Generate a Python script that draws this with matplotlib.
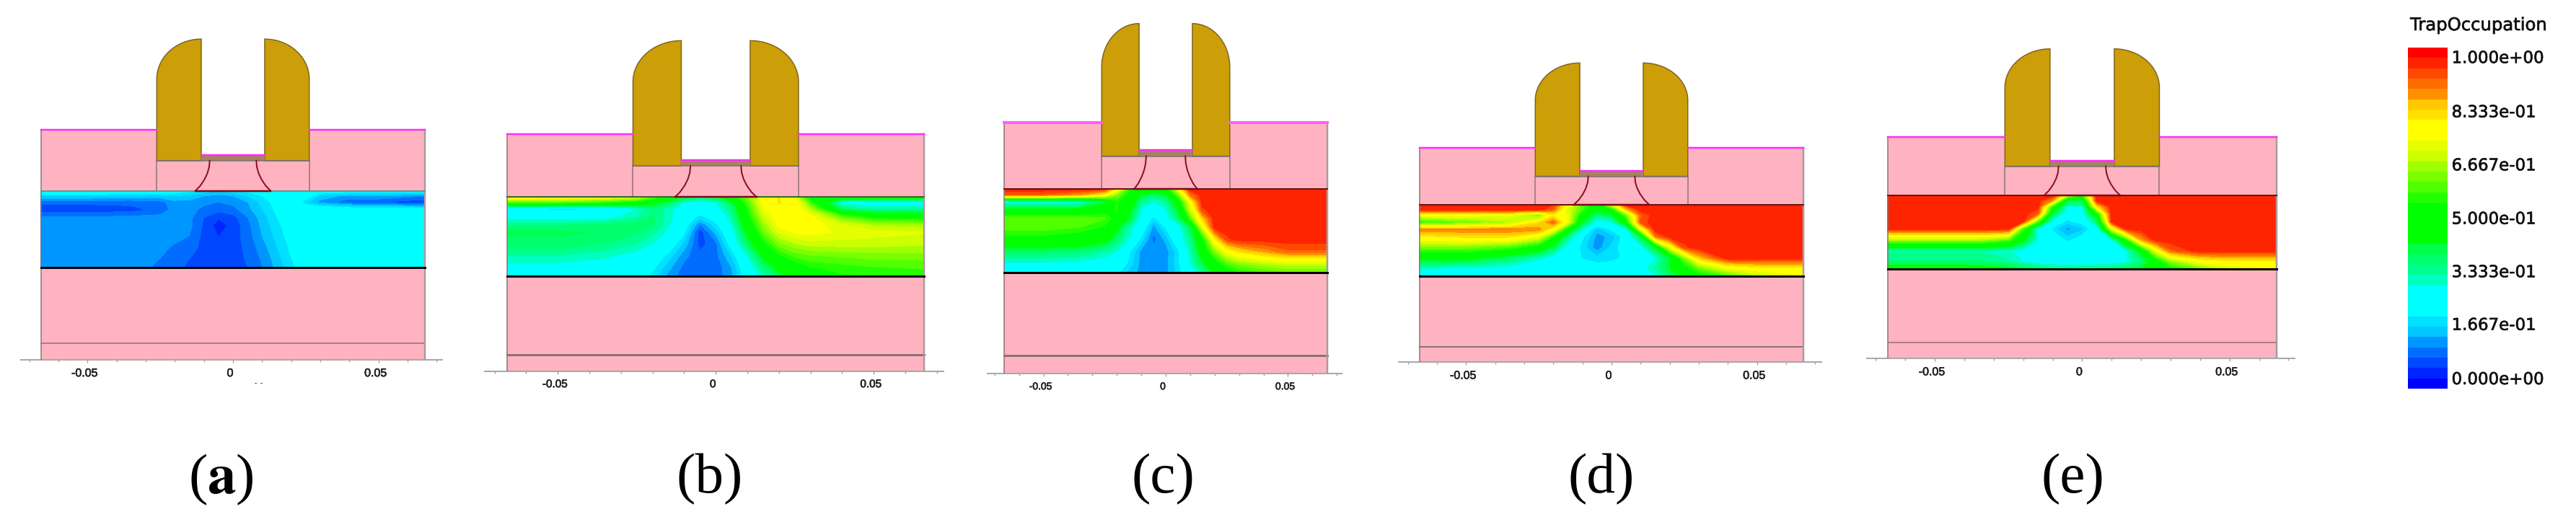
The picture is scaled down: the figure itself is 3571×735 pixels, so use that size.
import numpy as np
import matplotlib
matplotlib.use('Agg')
import matplotlib.pyplot as plt
import matplotlib.patheffects as pe
from matplotlib.colors import ListedColormap, BoundaryNorm
from matplotlib.patches import Rectangle, Polygon
from matplotlib.transforms import Bbox, ScaledTranslation

W, H = 3571, 735

# Trap occupation: rows run top to bottom of the layer
x_grid = [-0.066, -0.05, -0.035, -0.025, -0.02, -0.015, -0.01, -0.005, 0, 0.005, 0.01, 0.015, 0.02, 0.025, 0.03, 0.04, 0.05, 0.066]
row_frac = [0, .07, .15, .25, .35, .45, .6, .75, .9, 1]

field_a = [
    [.27, .27, .26, .25, .24, .22, .20, .18, .20, .22, .25, .27, .28, .28, .25, .24, .24, .24],
    [.18, .18, .17, .17, .18, .17, .15, .14, .15, .18, .21, .25, .27, .24, .17, .14, .15, .12],
    [.10, .10, .10, .11, .14, .14, .13, .12, .13, .15, .19, .23, .26, .19, .14, .10, .09, .07],
    [.07, .07, .08, .10, .135, .135, .11, .10, .11, .14, .18, .22, .26, .27, .27, .26, .25, .25],
    [.13, .13, .13, .135, .135, .13, .09, .065, .08, .12, .165, .21, .25, .27, .27, .27, .27, .27],
    [.135, .135, .135, .135, .135, .13, .085, .045, .07, .11, .16, .20, .24, .27, .27, .27, .27, .27],
    [.135, .135, .135, .135, .13, .12, .08, .06, .075, .105, .15, .19, .23, .27, .27, .27, .27, .27],
    [.135, .135, .135, .13, .115, .105, .08, .07, .075, .10, .135, .18, .22, .26, .27, .27, .27, .27],
    [.135, .135, .135, .12, .105, .09, .07, .07, .075, .095, .125, .165, .21, .245, .27, .27, .27, .27],
    [.135, .135, .135, .115, .10, .085, .07, .07, .075, .09, .12, .16, .20, .24, .27, .27, .27, .27],
]
field_b = [
    [.78, .76, .74, .70, .60, .48, .42, .38, .40, .50, .62, .75, .79, .72, .50, .47, .47, .47],
    [.58, .58, .55, .50, .45, .39, .30, .27, .30, .40, .58, .74, .79, .77, .58, .28, .27, .27],
    [.22, .20, .21, .30, .36, .32, .26, .25, .27, .36, .55, .72, .78, .78, .66, .38, .33, .33],
    [.27, .27, .28, .33, .37, .32, .25, .20, .24, .33, .52, .68, .76, .78, .74, .60, .52, .50],
    [.36, .36, .37, .38, .37, .31, .24, .12, .20, .30, .48, .64, .74, .76, .75, .70, .66, .65],
    [.40, .40, .39, .37, .34, .29, .22, .07, .16, .27, .44, .60, .70, .73, .74, .72, .71, .70],
    [.38, .38, .36, .33, .30, .25, .17, .08, .11, .24, .38, .52, .62, .66, .68, .68, .68, .67],
    [.33, .33, .31, .28, .25, .20, .13, .10, .11, .18, .30, .44, .53, .58, .60, .61, .62, .62],
    [.28, .28, .27, .26, .22, .16, .11, .10, .10, .15, .26, .36, .45, .50, .54, .56, .57, .58],
    [.26, .26, .26, .25, .20, .14, .105, .10, .105, .14, .25, .32, .40, .47, .52, .54, .55, .55],
]
field_c = [
    [.96, .96, .96, .94, .78, .55, .50, .48, .50, .72, .96, .96, .96, .96, .96, .96, .96, .96],
    [.90, .90, .85, .76, .62, .52, .42, .38, .42, .60, .88, .96, .96, .96, .96, .96, .96, .96],
    [.27, .27, .28, .40, .55, .50, .35, .30, .34, .48, .75, .96, .96, .96, .96, .96, .96, .96],
    [.45, .45, .46, .52, .55, .45, .30, .26, .30, .42, .68, .93, .96, .96, .96, .96, .96, .96],
    [.60, .60, .60, .58, .52, .42, .27, .20, .27, .37, .58, .82, .96, .96, .96, .96, .96, .96],
    [.60, .60, .58, .54, .45, .33, .26, .14, .22, .27, .40, .72, .96, .96, .96, .96, .96, .96],
    [.52, .52, .50, .46, .38, .30, .20, .11, .16, .26, .35, .52, .78, .93, .96, .96, .96, .96],
    [.38, .38, .37, .33, .30, .22, .14, .13, .135, .20, .32, .48, .62, .74, .80, .85, .90, .90],
    [.29, .29, .28, .27, .26, .20, .14, .135, .14, .20, .30, .40, .50, .58, .62, .66, .68, .68],
    [.26, .26, .26, .25, .22, .17, .14, .135, .14, .19, .26, .34, .44, .50, .54, .57, .60, .60],
]
field_d = [
    [.96, .96, .96, .96, .94, .75, .60, .50, .70, .96, .96, .96, .96, .96, .96, .96, .96, .96],
    [.96, .96, .96, .96, .90, .70, .58, .46, .52, .82, .96, .96, .96, .96, .96, .96, .96, .96],
    [.74, .74, .72, .60, .78, .72, .50, .36, .40, .60, .90, .96, .96, .96, .96, .96, .96, .96],
    [.55, .60, .66, .80, .90, .72, .42, .27, .30, .50, .92, .96, .96, .96, .96, .96, .96, .96],
    [.88, .88, .88, .87, .75, .50, .30, .16, .22, .27, .70, .96, .96, .96, .96, .96, .96, .96],
    [.78, .80, .80, .72, .55, .36, .22, .14, .16, .24, .40, .88, .96, .96, .96, .96, .96, .96],
    [.62, .62, .58, .50, .40, .26, .20, .13, .19, .24, .28, .42, .72, .93, .96, .96, .96, .96],
    [.45, .45, .38, .31, .27, .24, .21, .19, .20, .22, .25, .30, .42, .62, .82, .96, .96, .96],
    [.30, .29, .28, .26, .25, .25, .24, .24, .24, .25, .28, .33, .42, .50, .60, .72, .76, .76],
    [.28, .27, .26, .25, .25, .25, .24, .24, .24, .25, .26, .30, .38, .44, .50, .58, .66, .72],
]
field_e = [
    [.96, .96, .96, .96, .96, .96, .96, .70, .55, .96, .96, .96, .96, .96, .96, .96, .96, .96],
    [.96, .96, .96, .96, .96, .96, .85, .42, .40, .96, .96, .96, .96, .96, .96, .96, .96, .96],
    [.96, .96, .96, .96, .96, .96, .55, .30, .30, .80, .96, .96, .96, .96, .96, .96, .96, .96],
    [.96, .96, .96, .96, .96, .90, .40, .26, .27, .50, .96, .96, .96, .96, .96, .96, .96, .96],
    [.96, .96, .96, .96, .96, .60, .27, .20, .24, .38, .96, .96, .96, .96, .96, .96, .96, .96],
    [.96, .96, .96, .96, .58, .30, .20, .14, .17, .26, .72, .96, .96, .96, .96, .96, .96, .96],
    [.66, .66, .66, .60, .45, .30, .25, .20, .24, .26, .30, .55, .85, .96, .96, .96, .96, .96],
    [.33, .33, .33, .31, .28, .26, .25, .25, .25, .25, .26, .30, .45, .72, .90, .96, .96, .96],
    [.37, .37, .37, .34, .30, .27, .26, .25, .25, .26, .27, .30, .36, .48, .62, .74, .77, .77],
    [.50, .50, .48, .45, .42, .40, .38, .37, .38, .38, .38, .40, .44, .48, .52, .60, .68, .72],
]
fields = [field_a, field_b, field_c, field_d, field_e]
panel_labels = ['a', 'b', 'c', 'd', 'e']

# colour bands of the legend, lowest value first
band_colors = ['#0000ff', '#0024ff', '#0048ff', '#006dff', '#0096ff', '#00c8ff', '#00e0ff', '#00ffff',
               '#00ffff', '#00ffff', '#00ffc0', '#00ff91', '#00ff6d', '#00ff48', '#00ff00', '#00ff00',
               '#00ff00', '#00ff00', '#24ff00', '#50ff00', '#78ff00', '#a0ff00', '#ccff00', '#e6ff00',
               '#ffff00', '#ffff00', '#ffe000', '#ffc800', '#ff9100', '#ff6d00', '#ff4800', '#ff2400',
               '#ff0000']
bar_ticks = [.032, .191, .346, .502, .659, .815, .974]
bar_labels = ['0.000e+00', '1.667e-01', '3.333e-01', '5.000e-01', '6.667e-01', '8.333e-01', '1.000e+00']

x_ticks = [-0.05, 0, 0.05]
x_tick_labels = ['-0.05', '0', '0.05']

# where each panel sits on the sheet (pixels)
panel_x0 = [323, 992.2, 1616, 2234, 2886.4]
panel_xscale = [4034, 4380, 3390, 4035, 4087]
panel_base = [499, 515, 518, 502.3, 497.3]
panel_yscale = [4277, 4410, 4667, 3990, 4130]
label_x = [306, 984, 1612, 2220, 2873]
tick_size = [11.5, 11, 10, 11.5, 11.5]
top_line = ['#6f8f90', '#2f6a20', '#701010', '#701010', '#701010']
top_width = [2.5, 2.5, 4, 2.5, 2.5]
top_color = ['#ff2cff', '#ff2cff', '#ff5cff', '#ff2cff', '#ff2cff']
thin_width = [1.5, 3, 3, 2, 1.5]

# device layout, um
x_edge = 0.066
gate_out = 0.0262
gate_in = 0.0109
y_thin, y_low, y_high, y_gate, y_top, y_gate_top, y_knee = 0.0053, 0.03, 0.0548, 0.0646, 0.0745, 0.104, 0.091
ox_thick = 0.0018
spacer_x = [.0080, .0082, .0088, .0098, .0112, .0129]
spacer_y = [.0646, .0625, .0605, .0585, .0565, .0548]

PINK = '#ffb3c0'
GOLD = '#cc9e08'
EDGE = '#8a7278'
px = 0.72

cmap = ListedColormap(band_colors)
levels = np.linspace(0, 1, len(band_colors) + 1)
norm = BoundaryNorm(levels, cmap.N)

fig = plt.figure(figsize=(W / 100, H / 100), dpi=100)
fig.patch.set_facecolor('white')
heavy = [pe.withStroke(linewidth=0.5, foreground='#222222')]


def gate_outline(side):
    t = np.linspace(0, np.pi / 2, 40)
    xs = gate_in + (gate_out - gate_in) * np.cos(t)
    ys = y_knee + (y_gate_top - y_knee) * np.sin(t)
    pts = [(gate_in, y_gate), (gate_out, y_gate)] + list(zip(xs, ys)) + [(gate_in, y_gate_top)]
    return [(side * a, b) for a, b in pts]


for i, field in enumerate(fields):
    xlim = (-0.08, 0.08)
    ylim = (0, 0.115)
    left = panel_x0[i] + xlim[0] * panel_xscale[i]
    width = (xlim[1] - xlim[0]) * panel_xscale[i]
    height = ylim[1] * panel_yscale[i]
    ax = fig.add_axes([left / W, 1 - panel_base[i] / H, width / W, height / H])
    ax.set_xlim(xlim)
    ax.set_ylim(ylim)
    ax.patch.set_alpha(0)

    # pink body
    ax.add_patch(Rectangle((-x_edge, 0), 2 * x_edge, y_low, fc=PINK, ec='none', zorder=1))
    ax.add_patch(Rectangle((-x_edge, y_high), x_edge - gate_out, y_top - y_high, fc=PINK, ec='none', zorder=1))
    ax.add_patch(Rectangle((gate_out, y_high), x_edge - gate_out, y_top - y_high, fc=PINK, ec='none', zorder=1))
    ax.add_patch(Rectangle((-gate_out, y_high), 2 * gate_out, y_gate - y_high, fc=PINK, ec='none', zorder=1))

    # trap occupation in the layer
    yy = y_high - np.array(row_frac) * (y_high - y_low)
    ax.contourf(x_grid, yy, np.array(field), levels=levels, cmap=cmap, norm=norm, zorder=2)

    # gates and oxide
    for side in (-1, 1):
        ax.add_patch(Polygon(gate_outline(side), closed=True, fc=GOLD, ec='#7d6420', lw=1.5 * px, zorder=3))
        ax.plot([side * x_edge, side * gate_out], [y_top, y_top], color=top_color[i], lw=top_width[i] * px, zorder=4)
        ax.plot([side * gate_out] * 2, [y_high, y_gate], color=EDGE, lw=1.5 * px, zorder=3)
        ax.plot([side * v for v in spacer_x], spacer_y, color='#8a1020', lw=2 * px, zorder=4)
    ax.add_patch(Rectangle((-gate_in, y_gate), 2 * gate_in, ox_thick, fc='#a88260', ec='none', zorder=3))
    ax.plot([-gate_in, gate_in], [y_gate + ox_thick] * 2, color='#ff2cff', lw=2.5 * px, zorder=4)
    ax.plot([-gate_out, gate_out], [y_gate, y_gate], color='#80707a', lw=1.5 * px, zorder=3)

    # layer and outline lines
    ax.plot([-x_edge, x_edge], [y_high, y_high], color=top_line[i], lw=2 * px, zorder=4)
    ax.plot([-spacer_x[-1], spacer_x[-1]], [y_high, y_high], color='#7a0a18', lw=2.5 * px, zorder=5)
    ax.plot([-x_edge, x_edge], [y_low, y_low], color='black', lw=3 * px, zorder=5)
    ax.plot([-x_edge, x_edge], [y_thin, y_thin], color=EDGE, lw=thin_width[i] * px, zorder=3)
    ax.plot([-x_edge, -x_edge], [0, y_top], color=EDGE, lw=1.5 * px, zorder=3)
    ax.plot([x_edge, x_edge], [0, y_top], color='#a89aa0', lw=2.5 * px, zorder=3)

    for name in ['top', 'left', 'right']:
        ax.spines[name].set_visible(False)
    ax.spines['bottom'].set_color('#a8a8a8')
    ax.spines['bottom'].set_linewidth(2 * px)
    ax.spines['bottom'].set_bounds(-0.073, 0.072)
    ax.set_yticks([])
    ax.set_xticks(x_ticks)
    ax.set_xticklabels(x_tick_labels, fontname='Liberation Sans', fontsize=tick_size[i], color='#222222')
    ax.set_xticks(np.arange(-0.07, 0.071, 0.01), minor=True)
    ax.tick_params(axis='x', which='major', length=3, width=1, color='#a0a0a0', pad=5)
    ax.tick_params(axis='x', which='minor', length=1.8, width=1, color='#a0a0a0')
    shift = ScaledTranslation(-4 / 100, 0, fig.dpi_scale_trans)
    for lab in ax.get_xticklabels():
        lab.set_transform(lab.get_transform() + shift)
        lab.set_path_effects(heavy)

    # panel label below
    if panel_labels[i] == 'a':
        fig.text(label_x[i] / W, 1 - 665 / H, r'($\mathbf{a}$)', ha='center', va='center',
                 fontsize=57, family='Liberation Serif', math_fontfamily='stix')
    else:
        fig.text(label_x[i] / W, 1 - 665 / H, '(' + panel_labels[i] + ')', ha='center', va='center',
                 fontsize=57, family='Liberation Serif')

# cut-off axis title under the first panel
cut = fig.text(358 / W, 1 - 527 / H, 'x', ha='center', va='top', fontsize=16, color='#333333')
cut.set_clip_box(Bbox([[340, H - 532], [376, H - 524]]))
cut.set_clip_on(True)

# legend
cax = fig.add_axes([3338 / W, 1 - 539 / H, 55 / W, 473 / H])
cax.pcolormesh([0, 1], levels, (levels[:-1] + np.diff(levels) / 2).reshape(-1, 1), cmap=cmap, norm=norm)
cax.set_xticks([])
cax.yaxis.tick_right()
cax.set_yticks(bar_ticks)
cax.set_yticklabels(bar_labels, fontsize=16.5, color='#111111')
for lab in cax.get_yticklabels():
    lab.set_path_effects(heavy)
cax.tick_params(axis='y', length=0, pad=4)
for s in cax.spines.values():
    s.set_visible(False)
title = fig.text(3436 / W, 1 - 35 / H, 'TrapOccupation', ha='center', va='center', fontsize=17.5, color='#111111')
title.set_path_effects(heavy)

fig.savefig('out.png', dpi=100, facecolor='white')
